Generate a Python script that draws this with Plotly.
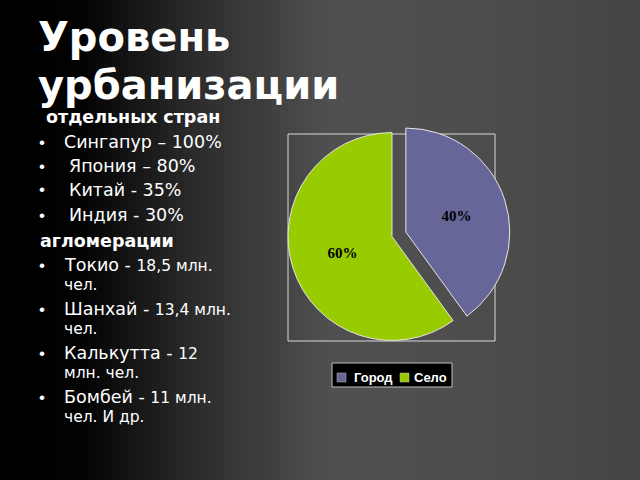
import plotly.graph_objects as go

# ---- data ----
labels = ["Город", "Село"]
values = [40, 60]
pie_colors = ["#666699", "#99CC00"]
pull = [0.14, 0]

title_lines = ["Уровень", "урбанизации"]
section1 = "отдельных стран"
countries = ["Сингапур – 100%", "Япония – 80%", "Китай - 35%", "Индия - 30%"]
section2 = "агломерации"
cities = ["Токио - ", "Шанхай - ", "Калькутта - ", "Бомбей - "]
city_line1 = ["18,5 млн.", "13,4 млн.", "12", "11 млн."]
city_line2 = ["чел.", "чел.", "млн. чел.", "чел. И др."]

W, H = 640, 480


def px(x):
    return x / W


def py(y):
    return 1 - y / H


fig = go.Figure()

fig.add_trace(go.Pie(
    labels=labels, values=values, pull=pull, sort=False,
    direction="clockwise", rotation=0,
    marker=dict(colors=pie_colors, line=dict(color="#e6e6e6", width=1)),
    texttemplate="%{percent:.0%}", textposition="inside",
    insidetextorientation="horizontal",
    textfont=dict(family="Liberation Serif", size=15, color="black", weight="bold"),
    domain=dict(x=[px(273), px(511)], y=[py(355), py(118)]),
    showlegend=False, hoverinfo="label+percent",
))

shapes = []
# background gradient strips
def bg(x):
    pts = [(0, 0), (80, 2), (200, 45), (330, 80), (450, 78), (640, 68)]
    for (x0, c0), (x1, c1) in zip(pts[:-1], pts[1:]):
        if x0 <= x <= x1:
            return c0 + (c1 - c0) * (x - x0) / (x1 - x0)
    return pts[-1][1]

step = 8
for i in range(0, W, step):
    c = int(round(bg(i + step / 2)))
    shapes.append(dict(type="rect", xref="paper", yref="paper", layer="below",
                       x0=px(i), x1=px(i + step + 0.5), y0=0, y1=1,
                       fillcolor=f"rgb({c},{c},{c})", line=dict(width=0)))
# plot area border
shapes.append(dict(type="rect", xref="paper", yref="paper", layer="below",
                   x0=px(288), x1=px(495), y0=py(341), y1=py(134),
                   line=dict(color="#d9d9d9", width=1), fillcolor="rgba(0,0,0,0)"))
# legend box
shapes.append(dict(type="rect", xref="paper", yref="paper", layer="above",
                   x0=px(332), x1=px(452), y0=py(387), y1=py(363),
                   line=dict(color="#bfbfbf", width=1), fillcolor="black"))
leg_sq = [337, 400]
leg_tx = [353, 413]
for i, lab in enumerate(labels):
    shapes.append(dict(type="rect", xref="paper", yref="paper", layer="above",
                       x0=px(leg_sq[i]), x1=px(leg_sq[i] + 9), y0=py(382), y1=py(373),
                       line=dict(color="#bfbfbf", width=0.5), fillcolor=pie_colors[i]))

ann = []
for i, lab in enumerate(labels):
    ann.append(dict(text=f"<b>{lab}</b>", x=px(leg_tx[i] - 1), y=py(377), xanchor="left",
                    yanchor="middle", showarrow=False,
                    font=dict(family="Liberation Sans", size=13, color="white")))

# title
ann.append(dict(text=f"<b>{title_lines[0]}</b>", x=px(36), y=py(37), xanchor="left",
                yanchor="middle", showarrow=False,
                font=dict(family="DejaVu Sans", size=40, color="white")))
ann.append(dict(text=f"<b>{title_lines[1]}</b>", x=px(36), y=py(85), xanchor="left",
                yanchor="middle", showarrow=False,
                font=dict(family="DejaVu Sans", size=40, color="white")))

FONT = "DejaVu Sans"
def text(s, x, y, size=17.5, bold=False):
    ann.append(dict(text=(f"<b>{s}</b>" if bold else s), x=px(x), y=py(y), xanchor="left",
                    yanchor="middle", showarrow=False,
                    font=dict(family=FONT, size=size, color="white")))

def bullet(y):
    ann.append(dict(text="•", x=px(42), y=py(y), xanchor="center", yanchor="middle",
                    showarrow=False, font=dict(family="Liberation Sans", size=17, color="white")))

text(section1, 44, 117, 17.5, True)
cy = [142, 166, 190, 215]
cx = [62, 67, 67, 67]
for s, y, x in zip(countries, cy, cx):
    bullet(y)
    text(s, x, y, 17.5)
text(section2, 38, 241, 17.5, True)
ly1 = [265, 309, 353, 397]
ly2 = [285, 329, 373, 417]
for c, a, b, y1, y2 in zip(cities, city_line1, city_line2, ly1, ly2):
    bullet(y1)
    text(f"{c}<span style='font-size:15.5px'>{a}</span>", 62, y1, 17.5)
    text(b, 62, y2, 15.5)

fig.update_layout(
    width=W, height=H, margin=dict(l=0, r=0, t=0, b=0),
    paper_bgcolor="black", plot_bgcolor="black",
    shapes=shapes, annotations=ann, showlegend=False,
)
fig.write_html("out.html", config={"displayModeBar": False},
               post_script="document.body.style.margin='0';document.body.style.overflow='hidden';")
